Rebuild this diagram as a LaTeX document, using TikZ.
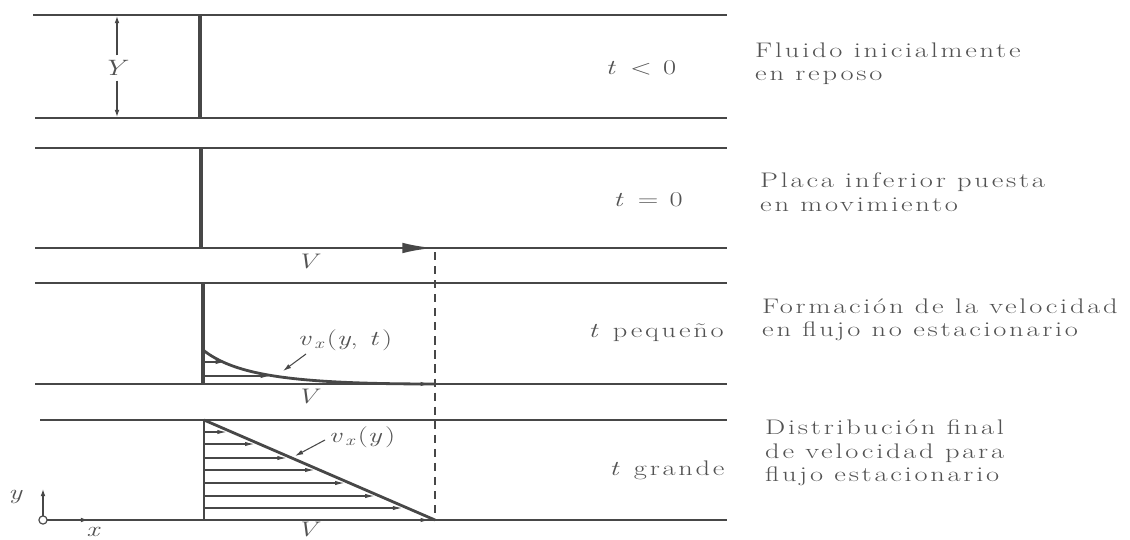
\documentclass[tikz,border=0pt]{standalone}
\usepackage{fontspec}
\setmainfont{Latin Modern Roman}[FakeStretch=1.35, LetterSpace=13]
\usetikzlibrary{arrows.meta}
\definecolor{ink}{gray}{0.28}
\definecolor{txt}{gray}{0.32}
\tikzset{
  plate/.style={draw=ink, line width=1.3pt},
  wall/.style={draw=ink, line width=2.8pt},
  thinwall/.style={draw=ink, line width=1.1pt},
  thick profile/.style={draw=ink, line width=2.4pt},
  vec/.style={draw=ink, line width=0.9pt, -{Latex[length=8pt,width=3.6pt]}},
  bigvec/.style={draw=ink, line width=2.4pt, -{Latex[length=27pt,width=9pt]}},
  dim/.style={draw=ink, line width=1pt, -{Latex[length=6pt,width=4pt]}},
  lead/.style={draw=ink, line width=0.9pt, -{Latex[length=7pt,width=4pt]}},
  lbl/.style={text=txt, font=\fontsize{18}{20}\selectfont, inner sep=0pt},
  desc/.style={lbl, align=left, anchor=west},
  guide/.style={draw=ink, line width=1.1pt, dash pattern=on 7pt off 5pt}
}
\begin{document}
\begin{tikzpicture}[x=0.03cm,y=-0.03cm]
\useasboundingbox (0,0) rectangle (1130,540);

% ---------- panel 1 : t < 0
\draw[plate] (33,15) -- (727,15);
\draw[plate] (35,118) -- (727,118);
\coordinate (w1t) at (200,15); \coordinate (w1b) at (200,118);
\draw[wall] (w1t) -- (w1b);
\node[lbl, font=\fontsize{19}{21}\selectfont] (Y) at (117,68) {\textit{Y}};
\coordinate (Yt) at (117,16); \coordinate (Yb) at (117,117);
\draw[dim] ([yshift=4pt]Y.north) -- (Yt);
\draw[dim] ([yshift=-4pt]Y.south) -- (Yb);
\node[lbl] (t1) at (641,68) {\textit{t} < 0};
\node[desc] (d1) at (755,63.5) {Fluido inicialmente\\en reposo};

% ---------- panel 2 : t = 0
\draw[plate] (35,148) -- (727,148);
\draw[plate] (35,248) -- (727,248);
\coordinate (w2t) at (201,148); \coordinate (w2b) at (201,248);
\draw[wall] (w2t) -- (w2b);
\coordinate (v2) at (434,248);
\draw[bigvec] (w2b) -- (v2);
\node[lbl] (V2) at (310,262) {\textit{V}};
\node[lbl] (t2) at (648,200) {\textit{t} = 0};
\node[desc] (d2) at (760,192) {Placa inferior puesta\\en movimiento};

% ---------- panel 3 : t small
\draw[plate] (35,283) -- (727,283);
\draw[plate] (35,384) -- (727,384);
\coordinate (w3t) at (203,283); \coordinate (w3b) at (203,384);
\draw[wall] (w3t) -- (w3b);
\coordinate (c0) at (203,350); \coordinate (c1) at (435,384);
\draw[thick profile] (c0) .. controls (235,375) and (290,384) .. (c1);
\coordinate (a1s) at (203,362); \coordinate (a1e) at (225,362);
\draw[vec] (a1s) -- (a1e);
\coordinate (a2s) at (203,376); \coordinate (a2e) at (270,376);
\draw[vec] (a2s) -- (a2e);
\coordinate (a3s) at (380,384); \coordinate (a3e) at (430,384);
\draw[vec] (a3s) -- (a3e);
\node[lbl] (vxt) at (345,340) {\textit{v}\textsubscript{\textit{x}}(\textit{y}, \textit{t})};
\coordinate (l1s) at (306,354); \coordinate (l1e) at (283,371);
\draw[lead] (l1s) -- (l1e);
\node[lbl] (V3) at (310,397) {\textit{V}};
\node[lbl] (t3) at (656,333) {\textit{t} pequeño};
\node[desc] (d3) at (762,320) {Formación de la velocidad\\en flujo no estacionario};

% ---------- panel 4 : t large
\draw[plate] (40,420) -- (727,420);
\coordinate (O) at (43,520);
\draw[plate] (O) -- (727,520);
\coordinate (w4t) at (204,420); \coordinate (w4b) at (204,520);
\draw[thinwall] (w4t) -- (w4b);
\coordinate (dg) at (435,520);
\draw[thick profile] (w4t) -- (dg);
\foreach \yy in {432,444,458,470,483,496,508}{
  \draw[vec] (204,\yy) -- ({204+2.31*(\yy-420)-5},\yy);
}
\coordinate (a4s) at (380,520); \coordinate (a4e) at (430,520);
\draw[vec] (a4s) -- (a4e);
\node[lbl] (vxy) at (362,437) {\textit{v}\textsubscript{\textit{x}}(\textit{y})};
\coordinate (l2s) at (325,440); \coordinate (l2e) at (295,456);
\draw[lead] (l2s) -- (l2e);
\node[lbl] (V4) at (310,530) {\textit{V}};
\node[lbl] (t4) at (667,470) {\textit{t} grande};
\node[desc] (d4) at (765,453) {Distribución final\\de velocidad para\\flujo estacionario};

% ---------- dashed guide
\coordinate (g0) at (435,252);
\draw[guide] (g0) -- (dg);

% ---------- axes
\coordinate (yax) at (43,489);
\coordinate (xax) at (88,520);
\draw[dim] (O) -- (yax);
\draw[dim] (O) -- (xax);
\node[draw=ink, fill=white, line width=1pt, circle, minimum size=7pt, inner sep=0pt] (Oc) at (O) {};
\node[lbl] (ylab) at (17,497) {\textit{y}};
\node[lbl] (xlab) at (95,532) {\textit{x}};
\end{tikzpicture}
\end{document}
